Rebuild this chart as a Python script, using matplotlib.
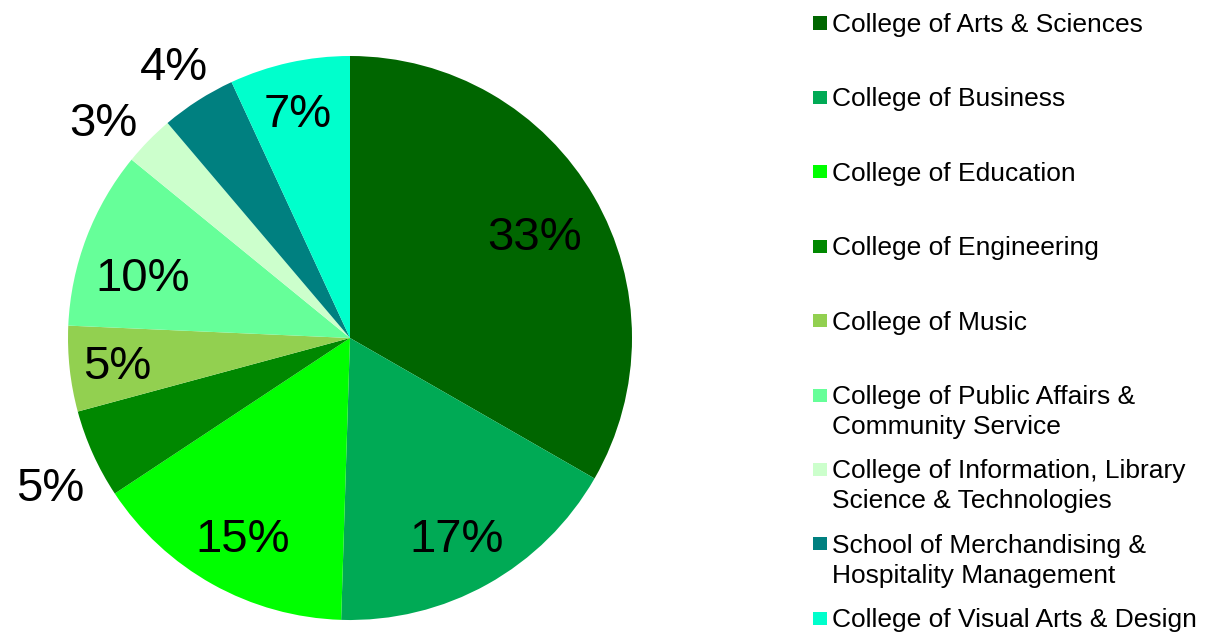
import numpy as np
import matplotlib
matplotlib.use('Agg')
import matplotlib.pyplot as plt
from matplotlib.patches import Rectangle
from matplotlib.transforms import ScaledTranslation

plt.rcParams['font.family'] = ['Liberation Sans', 'DejaVu Sans']

# data
colleges = ['College of Arts & Sciences',
            'College of Business',
            'College of Education',
            'College of Engineering',
            'College of Music',
            'College of Public Affairs &\nCommunity Service',
            'College of Information, Library\nScience & Technologies',
            'School of Merchandising &\nHospitality Management',
            'College of Visual Arts & Design']
shares = [33.3, 17.2, 15.2, 5.1, 4.9, 10.2, 2.9, 4.3, 6.9]
colors = ['#006600', '#00AA55', '#00FF00', '#008800', '#92D050',
          '#66FF99', '#CCFFCC', '#008080', '#00FFCC']

# label placement: fraction of radius, and nudge off the bisector (deg)
label_r = [0.754, 0.795, 0.797, 1.183, 0.83, 0.768, 1.17, 1.159, 0.829]
label_dt = [-0.5, -0.7, 0.5, 1.6, -0.4, 3.7, 2.9, 0.0, 0.4]

W, H = 1213, 633
fig = plt.figure(figsize=(W / 100, H / 100), dpi=100)
fig.set_facecolor('white')

# pie axes placed in pixel terms
cx, cy, R = 350, 338, 282
ax = fig.add_axes([(cx - R) / W, (H - cy - R) / H, 2 * R / W, 2 * R / H])
wedges, texts, autotexts = ax.pie(shares, colors=colors, startangle=90,
                                  counterclock=False, autopct='%.0f%%',
                                  pctdistance=0.79, radius=1,
                                  wedgeprops=dict(linewidth=0),
                                  textprops=dict(fontsize=34, color='black'))
ax.set_xlim(-1, 1)
ax.set_ylim(-1, 1)
ax.set_aspect('equal')
ax.axis('off')

shift = ax.transData + ScaledTranslation(0, -5 / 100, fig.dpi_scale_trans)
for w, t, r, dt in zip(wedges, autotexts, label_r, label_dt):
    ang = np.deg2rad((w.theta1 + w.theta2) / 2 + dt)
    t.set_position((r * np.cos(ang), r * np.sin(ang)))
    t.set_transform(shift)
    t.set_ha('center')
    t.set_va('center')

# legend drawn by hand, one row every 74.4 px, 30 px between wrapped lines
for i, (name, c) in enumerate(zip(colleges, colors)):
    yc = 23 + 74.4 * i
    fig.patches.append(Rectangle((813 / W, 1 - (yc + 6.5) / H), 14 / W, 13 / H,
                                 transform=fig.transFigure, facecolor=c,
                                 edgecolor='none'))
    for k, line in enumerate(name.split('\n')):
        fig.text(832 / W, 1 - (yc + 9 + 30 * k) / H, line, fontsize=19,
                 ha='left', va='baseline')

plt.savefig('out.png', dpi=100, facecolor='white')
